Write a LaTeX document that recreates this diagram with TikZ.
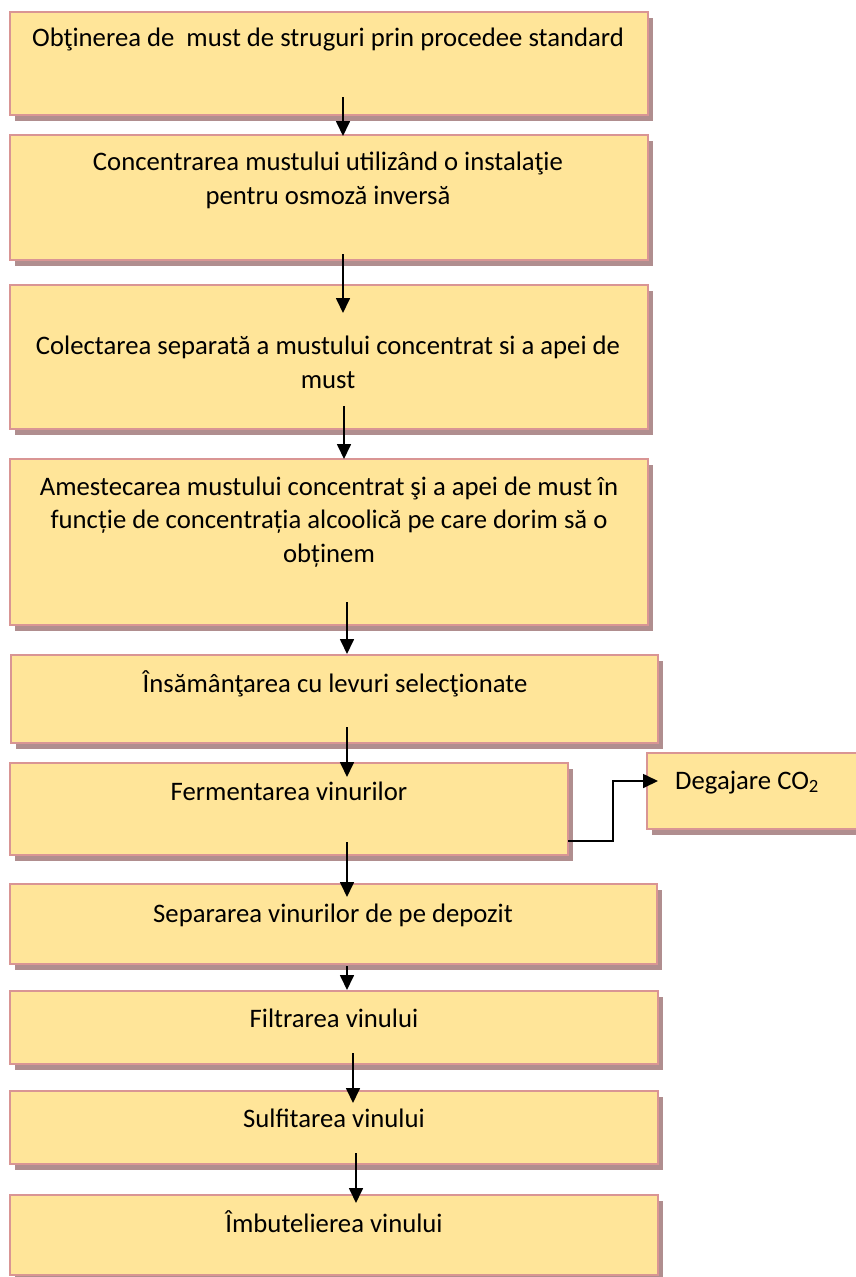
\documentclass[tikz,border=0pt]{standalone}
\usepackage{fontspec}
\setmainfont{Carlito}
\usetikzlibrary{arrows.meta,shadows}
\definecolor{boxfill}{HTML}{FFE599}
\definecolor{boxline}{HTML}{D99594}
\definecolor{boxshadow}{HTML}{B08E8F}
\tikzset{
  box/.style={rectangle, fill=boxfill, draw=boxline, line width=2.5pt, inner sep=0pt, outer sep=0pt,
    general shadow={fill=boxshadow, shadow xshift=4.5pt, shadow yshift=-5.5pt}},
  txt/.style={anchor=base, align=center, inner sep=0pt, font=\fontsize{26.7}{33.5}\selectfont, text=black},
  arr/.style={line width=1.7pt, -{Triangle[length=15pt,width=14pt]}},
}
\begin{document}
\begin{tikzpicture}[x=1pt,y=-1pt]
\useasboundingbox (0,0) rectangle (856,1277);
% boxes
\node[box, minimum width=638pt, minimum height=103pt] (b1) at (329,63.5) {};
\node[box, minimum width=638pt, minimum height=125pt] (b2) at (329,197.5) {};
\node[box, minimum width=638pt, minimum height=144pt] (b3) at (329,357) {};
\node[box, minimum width=638pt, minimum height=166pt] (b4) at (329,542) {};
\node[box, minimum width=647pt, minimum height=88pt] (b5) at (334.5,699) {};
\node[box, minimum width=558pt, minimum height=92pt] (b6) at (289,809) {};
\node[box, minimum width=243pt, minimum height=76pt] (d) at (768.5,791) {};
\node[box, minimum width=647pt, minimum height=80pt] (b7) at (333.5,924) {};
\node[box, minimum width=648pt, minimum height=73pt] (b8) at (334,1027.5) {};
\node[box, minimum width=648pt, minimum height=73pt] (b9) at (334,1127.5) {};
\node[box, minimum width=648pt, minimum height=80pt] (b10) at (334,1235) {};
% texts (base anchor = baseline of the last line)
\node[txt] (t1) at (328,46) {Obţinerea de\ \ must de struguri prin procedee standard};
\node[txt] (t2) at (328,204) {Concentrarea mustului utilizând o instalaţie\\pentru osmoză inversă};
\node[txt] (t3) at (328,388) {Colectarea separată a mustului concentrat si a apei de\\must};
\node[txt] (t4) at (329,562) {Amestecarea mustului concentrat şi a apei de must în\\funcție de concentrația alcoolică pe care dorim să o\\obținem};
\node[txt] (t5) at (335,692) {Însămânţarea cu levuri selecţionate};
\node[txt] (t6) at (289,800) {Fermentarea vinurilor};
\node[txt, anchor=base west] (td) at (675,789) {Degajare CO\textsubscript{2}};
\node[txt] (t7) at (333,922) {Separarea vinurilor de pe depozit};
\node[txt] (t8) at (334,1027) {Filtrarea vinului};
\node[txt] (t9) at (334,1127) {Sulfitarea vinului};
\node[txt] (t10) at (334,1232) {Îmbutelierea vinului};
% arrow ends
\coordinate (a1s) at (343,97);   \coordinate (a1e) at (343,136);
\coordinate (a2s) at (343,254);  \coordinate (a2e) at (343,313);
\coordinate (a3s) at (344,406);  \coordinate (a3e) at (344,459);
\coordinate (a4s) at (347,602);  \coordinate (a4e) at (347,654);
\coordinate (a5s) at (347,727);  \coordinate (a5e) at (347,777);
\coordinate (a6s) at (347,842);  \coordinate (a6e) at (347,897);
\coordinate (a7s) at (347,966);  \coordinate (a7e) at (347,990);
\coordinate (a8s) at (353,1053); \coordinate (a8e) at (353,1103);
\coordinate (a9s) at (356,1153); \coordinate (a9e) at (356,1203);
\coordinate (cs) at (568,841);   \coordinate (ce) at (658,781);
\draw[arr] (a1s) -- (a1e);
\draw[arr] (a2s) -- (a2e);
\draw[arr] (a3s) -- (a3e);
\draw[arr] (a4s) -- (a4e);
\draw[arr] (a5s) -- (a5e);
\draw[arr] (a6s) -- (a6e);
\draw[arr] (a7s) -- (a7e);
\draw[arr] (a8s) -- (a8e);
\draw[arr] (a9s) -- (a9e);
\draw[arr] (cs) -- (613,841) -- (613,781) -- (ce);
\end{tikzpicture}
\end{document}
